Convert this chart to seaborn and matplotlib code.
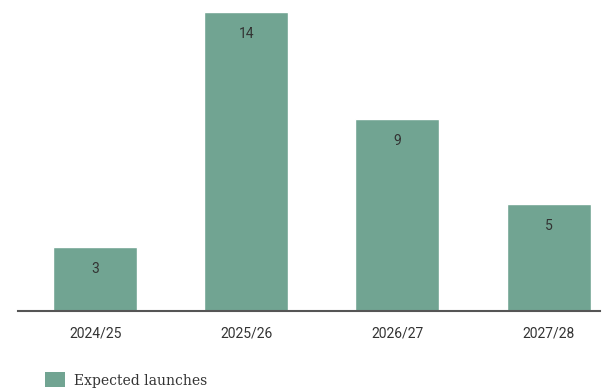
import matplotlib
matplotlib.use("Agg")
import matplotlib.pyplot as plt
import seaborn as sns
from matplotlib.patches import Patch

# data
years = ["2024/25", "2025/26", "2026/27", "2027/28"]
launches = [3, 14, 9, 5]
series_name = "Expected launches"

bar_color = "#71a492"

sns.set_style("white")
plt.rcParams["font.family"] = ["Roboto", "DejaVu Sans"]

fig = plt.figure(figsize=(6.09, 3.88), dpi=100)
ax = fig.add_axes([18 / 609, 1 - 311 / 388, 582 / 609, 299 / 388])

sns.barplot(x=years, y=launches, color=bar_color, width=0.555,
            saturation=1, ax=ax)

ax.bar_label(ax.containers[0], padding=-21, fontsize=10, color="#333333")

ax.set_xlim(-0.51, 3.34)
ax.set_ylim(0, 14)
for s in ["top", "right", "left"]:
    ax.spines[s].set_visible(False)
ax.spines["bottom"].set_color("#555555")
ax.spines["bottom"].set_linewidth(1.5)
ax.set_yticks([])
ax.tick_params(axis="x", length=0, pad=11, labelsize=10, labelcolor="#333333")
ax.set_xlabel("")
ax.set_ylabel("")

handle = Patch(facecolor=bar_color, edgecolor="none")
fig.legend([handle], [series_name], loc="lower left",
           bbox_to_anchor=(32 / 609, -12 / 388), frameon=False,
           handlelength=1.45, handleheight=1.3, handletextpad=0.65,
           prop={"family": "DejaVu Serif", "size": 10})
for t in fig.legends[0].get_texts():
    t.set_color("#333333")

fig.savefig("out.png", dpi=100)
